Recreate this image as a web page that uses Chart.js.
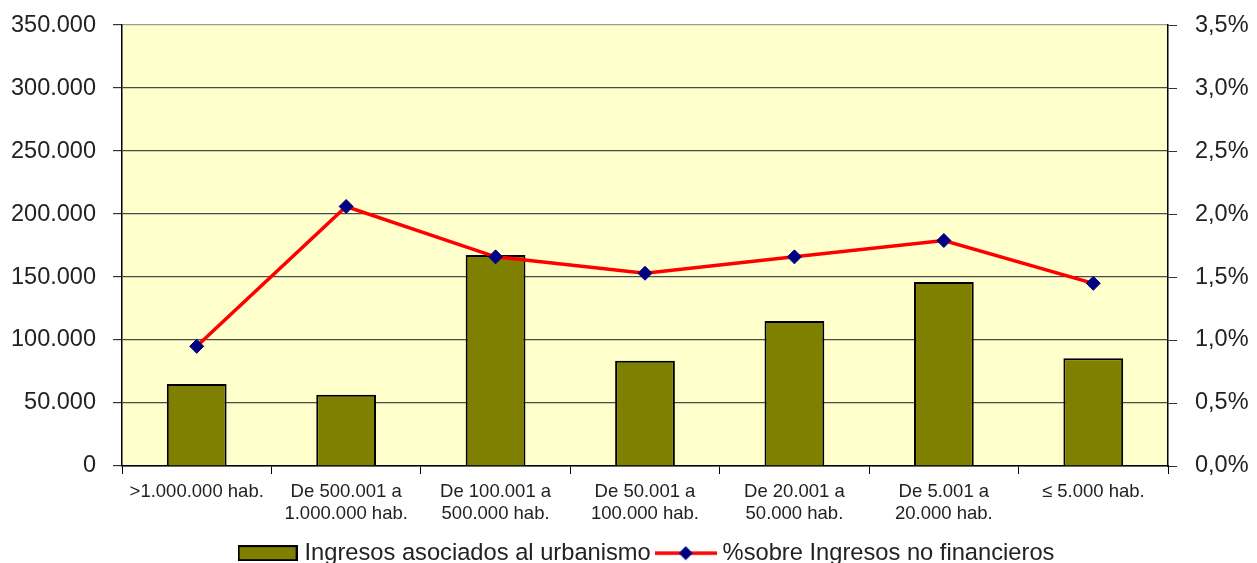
<!DOCTYPE html>
<html lang="es">
<head>
    <meta charset="UTF-8">
    <title>Ingresos asociados al urbanismo</title>
    <script src="https://cdn.jsdelivr.net/npm/chart.js"></script>
    <style>
        body { margin: 0; background: #ffffff; }
        .chart-container { position: relative; width: 1257px; height: 563px; }
    </style>
</head>
<body>
    <div class="chart-container">
        <canvas id="chart"></canvas>
    </div>

    <script>
        // Tramos de población
        const categories = [
            ['>1.000.000 hab.'],
            ['De 500.001 a', '1.000.000 hab.'],
            ['De 100.001 a', '500.000 hab.'],
            ['De 50.001 a', '100.000 hab.'],
            ['De 20.001 a', '50.000 hab.'],
            ['De 5.001 a', '20.000 hab.'],
            ['≤ 5.000 hab.']
        ];
        // Ingresos asociados al urbanismo (miles €)
        const ingresosUrbanismo = [65000, 56500, 167500, 83500, 115000, 146000, 85500];
        // % sobre ingresos no financieros
        const pctIngresosNoFin = [0.95, 2.06, 1.66, 1.53, 1.66, 1.79, 1.45];

        const barLabel = 'Ingresos asociados al urbanismo';
        const lineLabel = '%sobre Ingresos no financieros';

        const FONT = "Arial, 'Liberation Sans', sans-serif";
        const TEXT = '#222';

        // legend swatches
        function barSwatch() {
            const c = document.createElement('canvas');
            c.width = 60; c.height = 16;
            const g = c.getContext('2d');
            g.fillStyle = '#808000';
            g.fillRect(1, 1, 58, 14);
            g.strokeStyle = '#000';
            g.lineWidth = 2;
            g.strokeRect(1, 1, 58, 14);
            return c;
        }
        function lineSwatch() {
            const c = document.createElement('canvas');
            c.width = 62; c.height = 16;
            const g = c.getContext('2d');
            g.strokeStyle = '#ff0000';
            g.lineWidth = 3.5;
            g.beginPath();
            g.moveTo(0, 8); g.lineTo(62, 8);
            g.stroke();
            g.fillStyle = '#000080';
            g.beginPath();
            g.moveTo(31, 1); g.lineTo(38, 8); g.lineTo(31, 15); g.lineTo(24, 8);
            g.closePath();
            g.fill();
            return c;
        }

        const plotBackground = {
            id: 'plotBackground',
            beforeDraw(chart) {
                const { ctx, chartArea: a } = chart;
                ctx.save();
                ctx.fillStyle = '#ffffcc';
                ctx.fillRect(a.left, a.top, a.right - a.left, a.bottom - a.top);
                ctx.restore();
            }
        };

        // nudge the legend row a little to the right, like the original
        const legendShift = {
            id: 'legendShift',
            afterLayout(chart) {
                if (chart.legend) {
                    chart.legend.left += 20;
                    chart.legend.right += 20;
                }
            }
        };

        const thousands = v => v.toString().replace(/\B(?=(\d{3})+(?!\d))/g, '.');

        new Chart(document.getElementById('chart'), {
            data: {
                labels: categories,
                datasets: [
                    {
                        type: 'line',
                        label: lineLabel,
                        data: pctIngresosNoFin,
                        yAxisID: 'y1',
                        borderColor: '#ff0000',
                        borderWidth: 3.5,
                        pointStyle: 'rectRot',
                        pointRadius: 7,
                        pointBackgroundColor: '#000080',
                        pointBorderColor: '#000080',
                        pointBorderWidth: 1,
                        tension: 0
                    },
                    {
                        type: 'bar',
                        label: barLabel,
                        data: ingresosUrbanismo,
                        yAxisID: 'y',
                        backgroundColor: '#808000',
                        borderColor: '#000000',
                        borderWidth: 2,
                        barPercentage: 0.4,
                        categoryPercentage: 1.0
                    }
                ]
            },
            options: {
                responsive: true,
                maintainAspectRatio: false,
                animation: false,
                layout: { padding: { top: 0, bottom: -12, left: 0, right: 0 } },
                plugins: {
                    tooltip: { enabled: false },
                    legend: {
                        position: 'bottom',
                        labels: {
                            font: { family: FONT, size: 23.7 },
                            color: TEXT,
                            usePointStyle: true,
                            pointStyleWidth: 50,
                            boxHeight: 14,
                            padding: 10,
                            generateLabels: () => [
                                { text: barLabel, pointStyle: barSwatch(), datasetIndex: 1, lineWidth: 0, fontColor: TEXT },
                                { text: lineLabel, pointStyle: lineSwatch(), datasetIndex: 0, lineWidth: 0, fontColor: TEXT }
                            ]
                        }
                    }
                },
                scales: {
                    x: {
                        offset: true,
                        grid: {
                            offset: true,
                            drawOnChartArea: false,
                            drawTicks: true,
                            tickLength: 8,
                            tickColor: '#000'
                        },
                        border: { color: '#000', width: 1.5 },
                        ticks: {
                            font: { family: FONT, size: 18.5, lineHeight: 1.2 },
                            color: TEXT,
                            padding: 7,
                            maxRotation: 0,
                            autoSkip: false
                        },
                        afterFit(scale) { scale.height = 65.3; }
                    },
                    y: {
                        position: 'left',
                        min: 0,
                        max: 350000,
                        grid: {
                            color: ctx => ctx.tick && ctx.tick.value === 350000 ? '#9a9a9a' : '#4a4a4a',
                            lineWidth: 1.2,
                            tickLength: 9,
                            tickColor: '#333'
                        },
                        border: { color: '#000', width: 1.5 },
                        ticks: {
                            stepSize: 50000,
                            font: { family: FONT, size: 23.5, lineHeight: 0.68 },
                            color: TEXT,
                            padding: 17,
                            callback: v => thousands(v)
                        },
                        afterFit(scale) { scale.width = 122; }
                    },
                    y1: {
                        position: 'right',
                        min: 0,
                        max: 3.5,
                        grid: {
                            drawOnChartArea: false,
                            tickLength: 9,
                            tickColor: '#333'
                        },
                        border: { color: '#000', width: 1.5 },
                        ticks: {
                            stepSize: 0.5,
                            font: { family: FONT, size: 23.5, lineHeight: 0.6 },
                            color: TEXT,
                            padding: 18,
                            callback: v => v.toFixed(1).replace('.', ',') + '%'
                        },
                        afterFit(scale) { scale.width = 89; }
                    }
                }
            },
            plugins: [plotBackground, legendShift]
        });
    </script>
</body>
</html>
